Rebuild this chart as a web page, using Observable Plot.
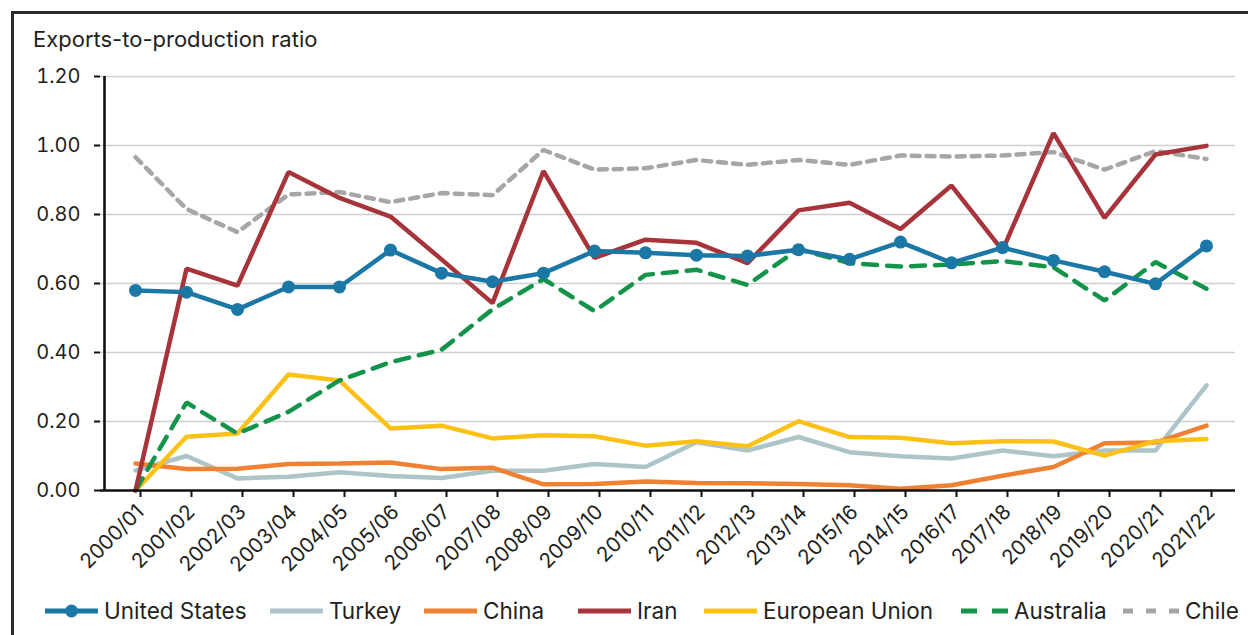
<!DOCTYPE html>
<html>
<head>
<meta charset="utf-8">
<script src="https://cdn.jsdelivr.net/npm/d3@7"></script>
<script src="https://cdn.jsdelivr.net/npm/@observablehq/plot@0.6"></script>
<style>
  body { margin: 0; background: #fff; font-family: Inter, Roboto, sans-serif; color: #231f20; }
  #frame { position: absolute; left: 11px; top: 11px; width: 1240px; height: 630px;
           border-top: 3px solid #2b2b2b; border-left: 3px solid #2b2b2b; }
  #ylabel { position: absolute; left: 33px; top: 26px; font-size: 22px; }
  #chart { position: absolute; left: 0; top: 0; }
  #legend { position: absolute; left: 0; top: 597px; width: 1248px; height: 28px; font-size: 22.5px; }
  .item { position: absolute; top: 0; display: flex; align-items: center; white-space: nowrap; }
  .item svg { margin-right: 6px; }
</style>
</head>
<body>
<div id="frame"></div>
<div id="ylabel">Exports-to-production ratio</div>
<div id="chart"></div>
<div id="legend"></div>
<script>
const seasons = ["2000/01","2001/02","2002/03","2003/04","2004/05","2005/06","2006/07","2007/08","2008/09","2009/10",
  "2010/11","2011/12","2012/13","2013/14","2015/16","2014/15","2016/17","2017/18","2018/19","2019/20","2020/21","2021/22"]

const unitedStates = [0.58,0.575,0.525,0.59,0.59,0.697,0.63,0.605,0.63,0.694,0.689,0.682,0.68,0.698,0.67,0.72,0.66,0.704,0.667,0.634,0.599,0.709]
const turkey = [0.058,0.10,0.035,0.04,0.053,0.042,0.036,0.057,0.057,0.077,0.068,0.14,0.116,0.155,0.111,0.099,0.093,0.116,0.099,0.116,0.116,0.305]
const china = [0.078,0.062,0.063,0.077,0.078,0.081,0.062,0.066,0.018,0.019,0.026,0.022,0.021,0.019,0.015,0.005,0.015,0.043,0.068,0.137,0.139,0.188]
const iran = [0,0.643,0.594,0.923,0.848,0.794,0.67,0.543,0.926,0.674,0.727,0.718,0.659,0.812,0.834,0.758,0.884,0.696,1.036,0.79,0.974,0.999]
const eu = [0,0.156,0.165,0.336,0.319,0.18,0.188,0.151,0.16,0.157,0.13,0.143,0.128,0.201,0.155,0.153,0.137,0.143,0.142,0.101,0.143,0.149]
const australia = [0,0.255,0.165,0.228,0.319,0.372,0.408,0.525,0.613,0.52,0.625,0.64,0.596,0.70,0.659,0.649,0.655,0.665,0.647,0.551,0.662,0.585]
const chile = [0.966,0.816,0.749,0.858,0.865,0.836,0.862,0.856,0.987,0.93,0.934,0.958,0.944,0.958,0.944,0.971,0.968,0.971,0.981,0.93,0.984,0.961]

const series = [
  {name: "United States", values: unitedStates, color: "#1b77a6", dash: null, dot: true},
  {name: "Turkey", values: turkey, color: "#adc4c9", dash: null},
  {name: "China", values: china, color: "#ef8132", dash: null},
  {name: "Iran", values: iran, color: "#a7343a", dash: null},
  {name: "European Union", values: eu, color: "#fcc117", dash: null},
  {name: "Australia", values: australia, color: "#13944a", dash: "14,10"},
  {name: "Chile", values: chile, color: "#a6a6a6", dash: "8,7"}
]

const rows = s => s.values.map((v, i) => ({season: seasons[i], value: v}))

// draw order: grey/orange low lines first, then the main ones
const drawOrder = ["Chile", "Turkey", "China", "European Union", "Australia", "Iran", "United States"]
const lineMarks = drawOrder.map(n => {
  const s = series.find(d => d.name == n)
  return Plot.line(rows(s), {x: "season", y: "value", stroke: s.color, strokeWidth: 4.5,
    strokeDasharray: s.dash, strokeLinejoin: "miter"})
})
const us = series[0]

const chart = Plot.plot({
  width: 1248,
  height: 580,
  marginTop: 76,
  marginBottom: 90,
  marginLeft: 100,
  marginRight: 13,
  style: {fontFamily: "Inter, Roboto, sans-serif", color: "#231f20", background: "transparent"},
  x: {type: "point", domain: seasons, range: [131, 1209], padding: 0, label: null},
  y: {domain: [0, 1.2], label: null},
  marks: [
    Plot.gridY([0.2, 0.4, 0.6, 0.8, 1.0, 1.2], {stroke: "#cfcfcf", strokeOpacity: 1, strokeWidth: 1.6}),
    Plot.axisY([0, 0.2, 0.4, 0.6, 0.8, 1.0, 1.2], {tickFormat: d3.format(".2f"), tickSize: 6, tickPadding: 14,
      fontSize: 20, stroke: "#111", strokeWidth: 2, label: null}),
    Plot.axisX({tickRotate: -45, tickSize: 7, tickPadding: 11, dx: 5, fontSize: 20.5, stroke: "#111", strokeWidth: 2, label: null}),
    ...lineMarks,
    Plot.dot(rows(us), {x: "season", y: "value", fill: us.color, r: 6.5}),
    Plot.ruleY([0], {stroke: "#111", strokeWidth: 2.6}),
    Plot.ruleX([seasons[0]], {y1: 0, y2: 1.2, dx: -31, stroke: "#111", strokeWidth: 2.6})
  ]
})
d3.select("#chart").append(() => chart)

// legend, items placed where the reference has them
const legendLeft = [45, 270, 424, 578, 704, 961, 1123]
const swatchDash = {"Australia": "16,15", "Chile": "10,13"}
const swatchWidth = {"Australia": 47, "Chile": 56}
const legend = d3.select("#legend")
series.forEach((s, i) => {
  const w = swatchWidth[s.name] || 53
  const item = legend.append("div").attr("class", "item").style("left", legendLeft[i] + "px")
  const sw = item.append("svg").attr("width", w).attr("height", 14)
  sw.append("line").attr("x1", 0).attr("x2", w).attr("y1", 7).attr("y2", 7)
    .attr("stroke", s.color).attr("stroke-width", 5)
    .attr("stroke-dasharray", swatchDash[s.name] || null)
  if (s.dot) sw.append("circle").attr("cx", w / 2).attr("cy", 7).attr("r", 6.5).attr("fill", s.color)
  item.append("span").text(s.name)
})
</script>
</body>
</html>
